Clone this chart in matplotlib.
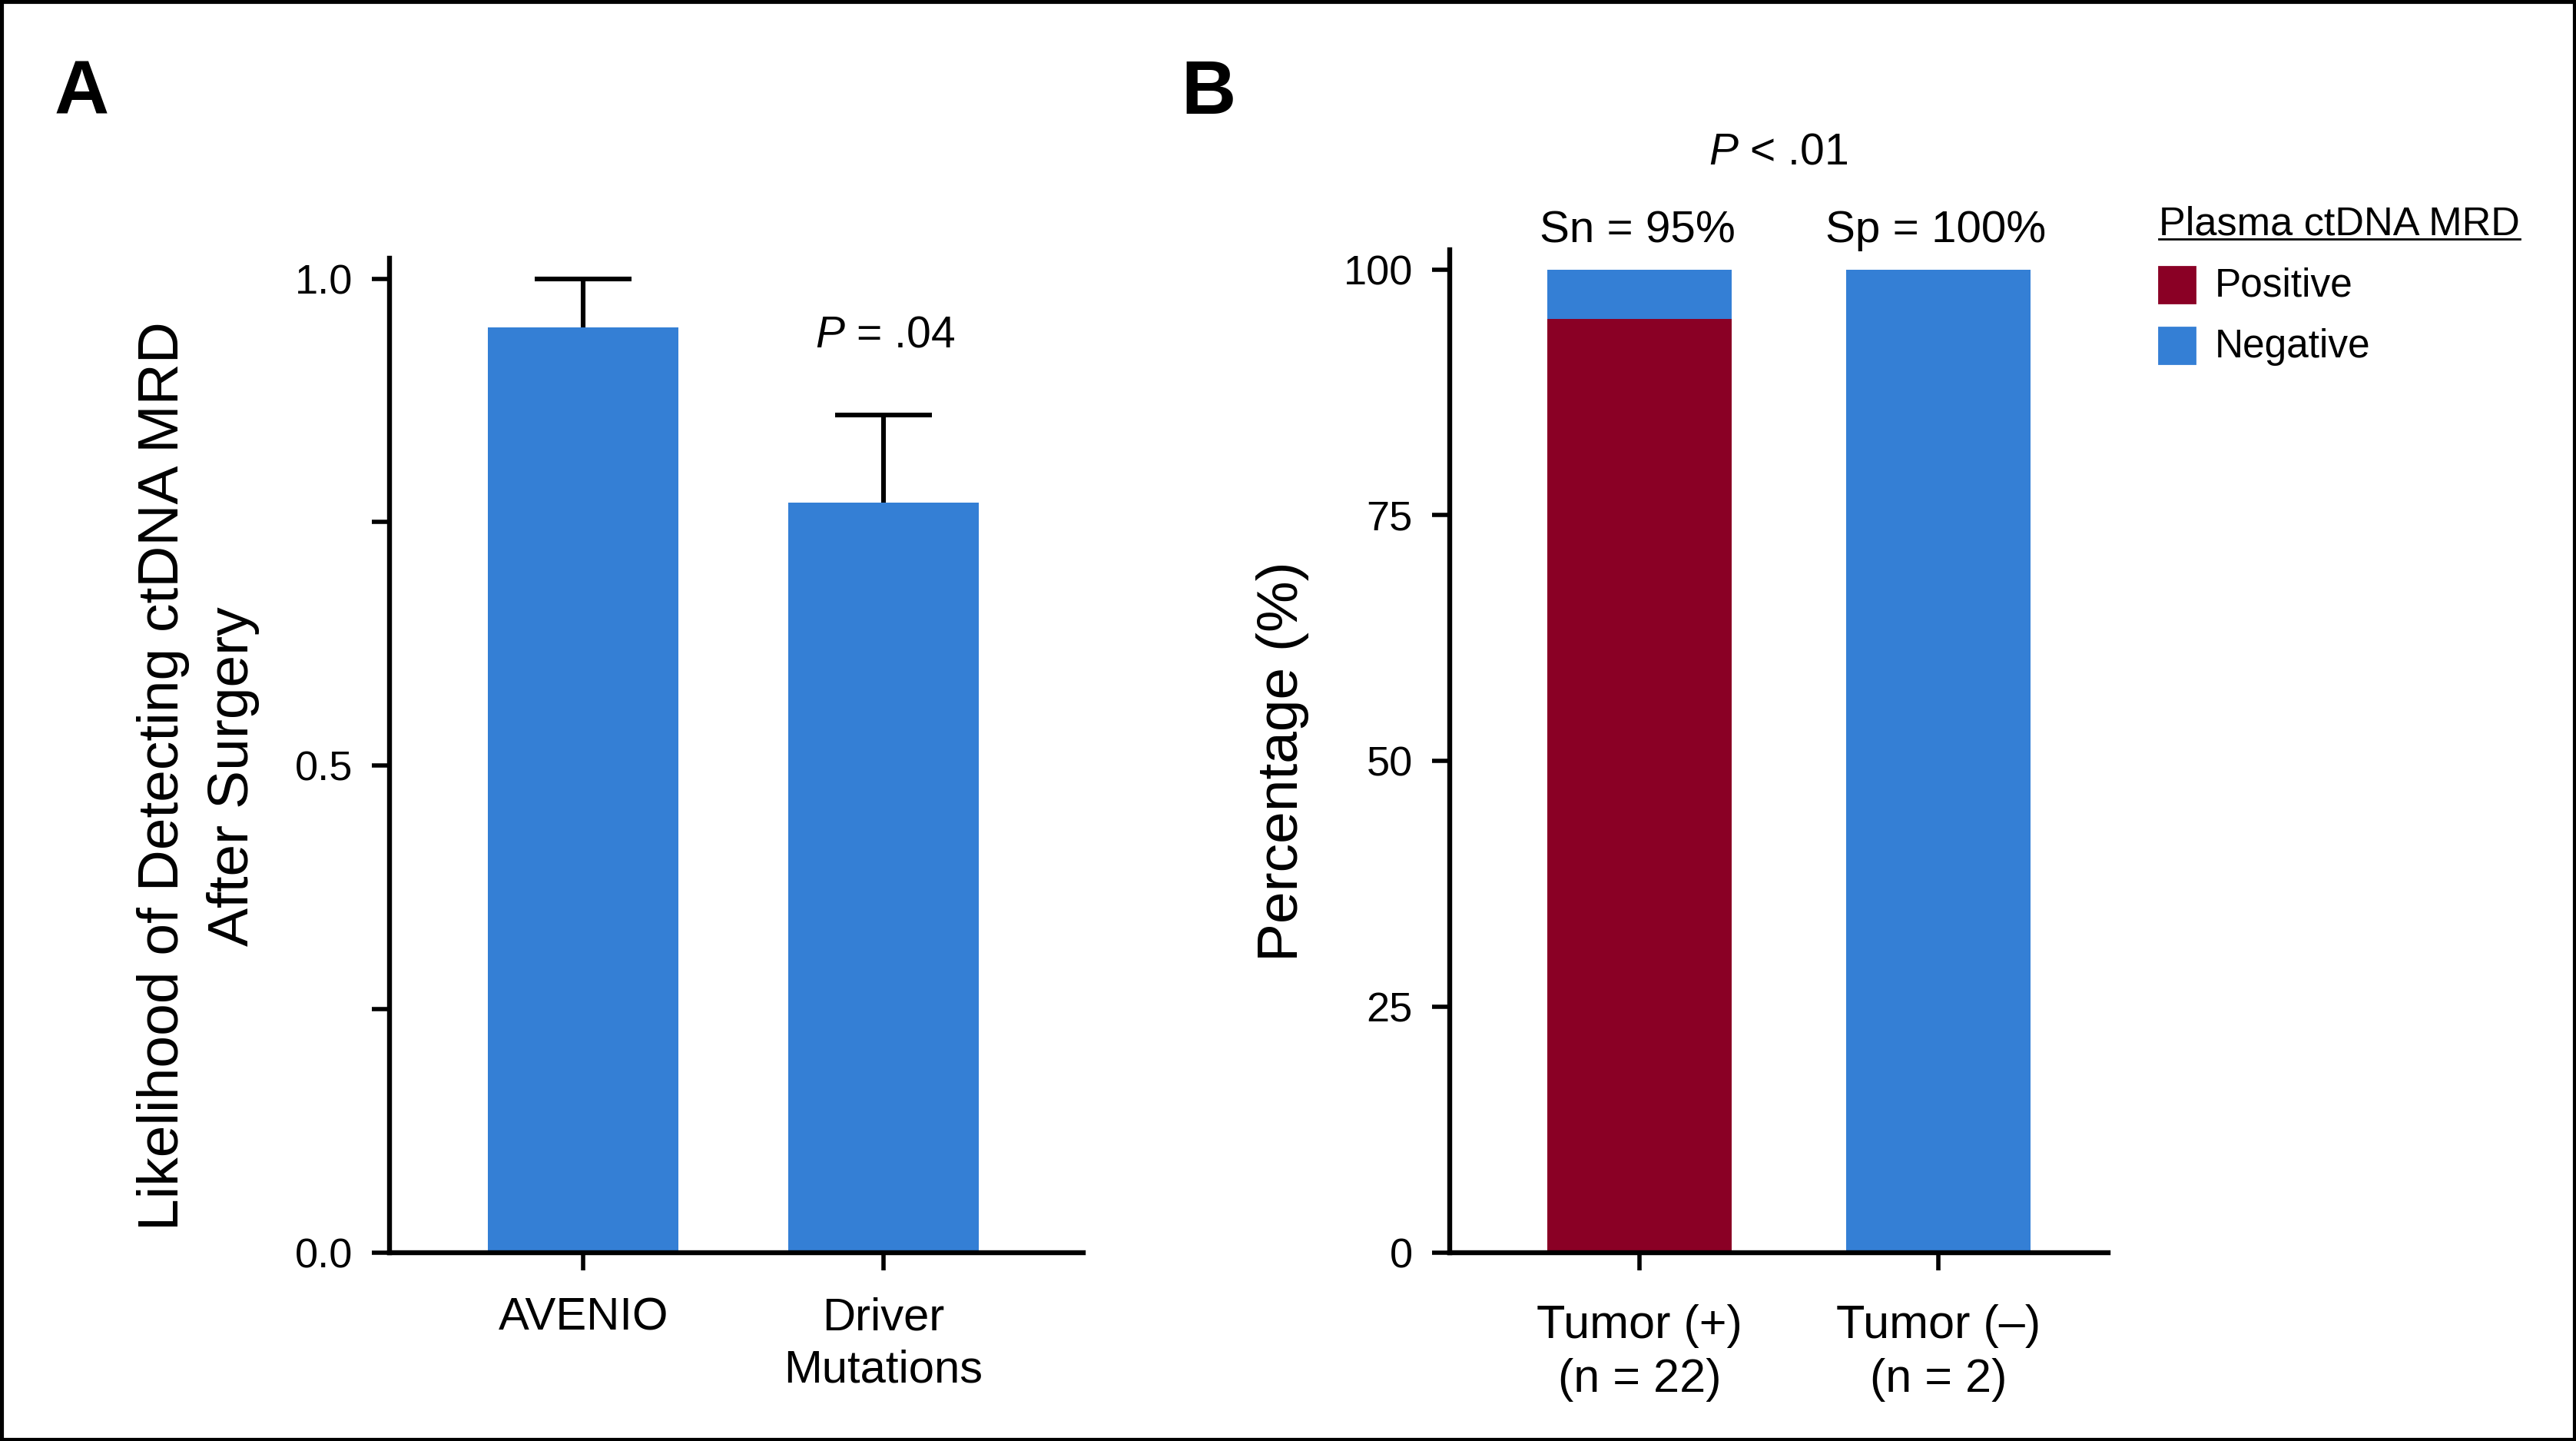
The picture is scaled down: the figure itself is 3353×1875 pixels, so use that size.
import matplotlib
matplotlib.use("Agg")
import matplotlib.pyplot as plt
from matplotlib.patches import Rectangle
from matplotlib.lines import Line2D

plt.rcParams['font.family'] = ['Liberation Sans', 'DejaVu Sans']
plt.rcParams['mathtext.fontset'] = 'custom'
plt.rcParams['mathtext.rm'] = 'Liberation Sans'
plt.rcParams['mathtext.it'] = 'Liberation Sans:italic'

# panel A data
methods = ['AVENIO', 'Driver\nMutations']
likelihood = [0.95, 0.77]
likelihood_err = [0.05, 0.09]

# panel B data
groups = ['Tumor (+)\n(n = 22)', 'Tumor (\u2013)\n(n = 2)']
positive_pct = [95, 0]
negative_pct = [5, 100]

blue = '#347FD5'
red = '#8A0025'

W, H, DPI = 3353, 1875, 200
fig = plt.figure(figsize=(W / DPI, H / DPI), dpi=DPI)


def px(x, y):
    # pixel position -> figure fraction
    return x / W, 1 - y / H


def style_axes(ax):
    for s in ['top', 'right']:
        ax.spines[s].set_visible(False)
    for s in ['left', 'bottom']:
        ax.spines[s].set_linewidth(2.3)
    ax.tick_params(axis='both', width=2.0, length=8.3, color='black')
    ax.tick_params(axis='y', pad=9, labelsize=19.5)


# ---- Panel A ----
axA = fig.add_axes([507 / W, 1 - 1630 / H, (1410 - 507) / W, (1630 - 336) / H])
xA = list(range(len(methods)))
axA.bar(xA, likelihood, width=0.634, color=blue, zorder=2)
# symmetric error bars drawn behind the bars, so only the upper half shows
axA.errorbar(xA, likelihood, yerr=likelihood_err, fmt='none',
             ecolor='black', elinewidth=2.2, capsize=22.7, capthick=2.2, zorder=1)
axA.set_xlim(-0.645, 1.665)
axA.set_ylim(0, 1.021)
axA.set_yticks([0, 0.25, 0.5, 0.75, 1.0])
axA.set_yticklabels(['0.0', '', '0.5', '', '1.0'])
axA.set_xticks(xA)
axA.set_xticklabels(methods, linespacing=1.3)
style_axes(axA)
axA.tick_params(axis='x', pad=12.5, labelsize=21.5)
axA.set_ylabel('Likelihood of Detecting ctDNA MRD\nAfter Surgery', fontsize=27,
               linespacing=1.4, va='center')
axA.yaxis.set_label_coords((258 - 507) / (1410 - 507), (1630 - 1010) / (1630 - 336))
fig.text(*px(1152, 452), '$\\mathit{P}$ = .04', fontsize=20.5, ha='center', va='baseline')

# ---- Panel B ----
axB = fig.add_axes([1887 / W, 1 - 1630 / H, (2744 - 1887) / W, (1630 - 325) / H])
xB = list(range(len(groups)))
axB.bar(xB, positive_pct, width=0.617, color=red)
axB.bar(xB, negative_pct, width=0.617, bottom=positive_pct, color=blue)
axB.set_xlim(-0.635, 1.568)
axB.set_ylim(0, 102)
axB.set_yticks([0, 25, 50, 75, 100])
axB.set_xticks(xB)
axB.set_xticklabels(groups, linespacing=1.28)
style_axes(axB)
axB.tick_params(axis='x', pad=16, labelsize=22)
axB.set_ylabel('Percentage (%)', fontsize=27, va='center')
axB.yaxis.set_label_coords((1670 - 1887) / (2744 - 1887), (1630 - 991) / (1630 - 325))

fig.text(*px(2315, 213), '$\\mathit{P}$ < .01', fontsize=20.5, ha='center', va='baseline')
fig.text(*px(2131, 315), 'Sn = 95%', fontsize=21, ha='center', va='baseline')
fig.text(*px(2520, 315), 'Sp = 100%', fontsize=21, ha='center', va='baseline')

# legend
fig.text(*px(2810, 306), 'Plasma ctDNA MRD', fontsize=18.8, ha='left', va='baseline')
fig.lines.append(Line2D([2810 / W, 3280 / W], [1 - 311 / H, 1 - 311 / H],
                        transform=fig.transFigure, color='black', lw=1.0))
leg_items = [('Positive', red, 347, 386), ('Negative', blue, 426, 465)]
for name, col, ytop, ybase in leg_items:
    fig.patches.append(Rectangle(px(2810, ytop + 47), 47 / W, 47 / H,
                                 transform=fig.transFigure, color=col))
    fig.text(*px(2883, ybase), name, fontsize=18.5, ha='left', va='baseline')

# panel letters
fig.text(*px(71, 148), 'A', fontsize=35.5, fontweight='bold', ha='left', va='baseline')
fig.text(*px(1537, 148), 'B', fontsize=35.5, fontweight='bold', ha='left', va='baseline')

# frame around the figure
fig.patches.append(Rectangle((0, 0), 1, 1, transform=fig.transFigure, fill=False,
                             ec='black', lw=3.3))

fig.savefig('out.png', dpi=DPI)
